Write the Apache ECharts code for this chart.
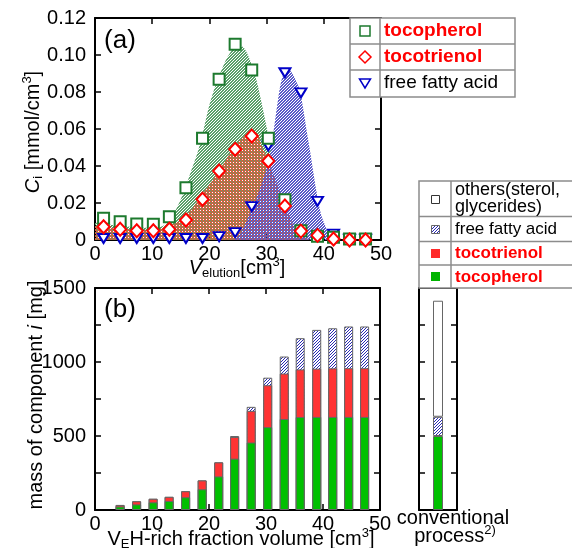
<!DOCTYPE html>
<html>
<head>
<meta charset="utf-8">
<script src="https://cdn.jsdelivr.net/npm/echarts@6/dist/echarts.min.js"></script>
<style>
  html, body { margin: 0; padding: 0; background: #fff; }
  #chart { width: 572px; height: 548px; }
</style>
</head>
<body>
<div id="chart"></div>
<script>
// (a) elution curves, sample points
const vElution = [1.5, 4.4, 7.3, 10.2, 13.0, 15.9, 18.8, 21.7, 24.5, 27.4, 30.3, 33.2, 36.0, 38.9, 41.7, 44.5, 47.3];
const tocopherol = [0.0117, 0.0099, 0.0086, 0.0085, 0.0126, 0.0283, 0.055, 0.0869, 0.1058, 0.0919, 0.055, 0.0218, 0.005, 0.002, 0.0015, 0.0005, 0.0005];
const tocotrienol = [0.0072, 0.0058, 0.005, 0.005, 0.0058, 0.0108, 0.022, 0.0373, 0.049, 0.0562, 0.0427, 0.0184, 0.0048, 0.0025, 0.0005, 0, 0];
const fattyAcid = [0.0008, 0.0008, 0.0008, 0.0008, 0.0008, 0.0008, 0.0008, 0.0018, 0.004, 0.018, 0.0508, 0.0904, 0.0795, 0.0209, 0.0032, 0.0004, 0.0004];

// (a) fitted curves (hatched areas)
const tocopherolFit = [[0, 0.0095], [2, 0.0085], [4, 0.0078], [6, 0.0072], [8, 0.0068], [10, 0.0066], [11, 0.0068], [12, 0.0078], [13, 0.0105], [14, 0.0155], [15, 0.022], [16, 0.030], [17, 0.039], [18, 0.048], [19, 0.060], [20, 0.073], [21, 0.083], [22, 0.091], [23, 0.098], [24, 0.1029], [25, 0.1056], [26, 0.104], [27, 0.098], [28, 0.089], [29, 0.076], [30, 0.061], [31, 0.046], [32, 0.032], [33, 0.021], [34, 0.012], [35, 0.006], [36, 0.003], [37, 0.0012], [38, 0.0005], [40, 0], [50, 0]];
const tocotrienolFit = [[0, 0.0075], [2, 0.0068], [4, 0.0062], [6, 0.0058], [8, 0.0056], [10, 0.0057], [12, 0.0065], [13, 0.0075], [14, 0.009], [15, 0.011], [16, 0.0137], [17, 0.017], [18, 0.0215], [19, 0.026], [20, 0.030], [21, 0.0345], [22, 0.039], [23, 0.044], [24, 0.0488], [25, 0.0528], [26, 0.0558], [27, 0.0578], [27.8, 0.0585], [28.5, 0.057], [29, 0.052], [30, 0.045], [31, 0.037], [32, 0.029], [33, 0.021], [34, 0.013], [35, 0.006], [36, 0.0025], [37, 0.001], [38, 0], [50, 0]];
const fattyAcidFit = [[0, 0], [24, 0], [25, 0.002], [26, 0.007], [27, 0.014], [28, 0.021], [29, 0.029], [30, 0.039], [30.6, 0.046], [31, 0.054], [31.5, 0.065], [32, 0.076], [32.5, 0.085], [33, 0.09], [33.5, 0.0925], [34, 0.092], [34.5, 0.09], [35, 0.087], [35.8, 0.081], [36.5, 0.069], [37, 0.059], [37.6, 0.048], [38.2, 0.036], [38.7, 0.0265], [39.5, 0.014], [40.4, 0.0065], [41, 0.002], [41.6, 0], [50, 0]];

// (b) mass per fraction volume, per component
const fractionVolume = [4.4, 7.3, 10.2, 13.0, 15.9, 18.8, 21.7, 24.5, 27.4, 30.3, 33.2, 36.0, 38.9, 41.7, 44.5, 47.3];
const massTocopherol = [24, 38, 52, 61, 86, 140, 227, 347, 456, 560, 615, 628, 629, 629, 629, 629];
const massTocotrienol = [10, 21, 24, 28, 41, 60, 95, 146, 214, 283, 307, 322, 326, 328, 329, 329];
const massFattyAcid = [0, 0, 0, 0, 0, 0, 0, 7, 27, 51, 115, 211, 262, 271, 282, 282];

// conventional process
const convTocopherol = [500];
const convFattyAcid = [130];
const convOthers = [784];

// running totals for the overlapped bars
const topTocotrienol = massTocopherol.map((v, i) => v + massTocotrienol[i]);
const topFattyAcid = topTocotrienol.map((v, i) => v + massFattyAcid[i]);

const font = '"Liberation Sans", Arial, sans-serif';

function hatch(rgb, dir, period, width, bg) {
  const c = document.createElement('canvas');
  c.width = period;
  c.height = period;
  const ctx = c.getContext('2d');
  if (bg) {
    ctx.fillStyle = bg;
    ctx.fillRect(0, 0, period, period);
  }
  ctx.fillStyle = rgb;
  for (let x = 0; x < period; x++) {
    for (let y = 0; y < period; y++) {
      const k = dir > 0 ? (x + y) % period : (x - y + period) % period;
      if (k < width) ctx.fillRect(x, y, 1, 1);
    }
  }
  return { image: c, repeat: 'repeat' };
}

const greenHatch = hatch('rgb(90,160,105)', 1, 3, 2);
const redHatch = hatch('rgb(215,90,60)', -1, 3, 2);
const blueHatch = hatch('rgb(90,90,200)', 1, 3, 2);
const barHatch = hatch('rgb(40,40,180)', 1, 3, 1, '#ffffff');

const frame = { show: true, onZero: false, lineStyle: { color: '#000', width: 2 } };
const ticks = { show: true, inside: true, length: 6, lineStyle: { color: '#000', width: 1.5 } };
const labelStyle = { color: '#000', fontSize: 20, fontFamily: font };

function xVal(grid, pos, show) {
  return {
    type: 'value', gridIndex: grid, position: pos, min: 0, max: 50, interval: 10,
    axisLine: frame, axisTick: ticks, splitLine: { show: false },
    axisLabel: Object.assign({ show: show, margin: 4, showMinLabel: true, showMaxLabel: true }, labelStyle)
  };
}

function yVal(grid, pos, show, max, interval, fmt) {
  return {
    type: 'value', gridIndex: grid, position: pos, min: 0, max: max, interval: interval,
    axisLine: frame, axisTick: ticks, splitLine: { show: false },
    axisLabel: Object.assign({ show: show, margin: 9, formatter: fmt, showMinLabel: true, showMaxLabel: true }, labelStyle)
  };
}

function xCat(grid, pos) {
  return {
    type: 'category', gridIndex: grid, position: pos, data: ['conventional'],
    axisLine: frame, axisTick: { show: false }, axisLabel: { show: false }, splitLine: { show: false }
  };
}

const subRich = {
  i: { fontStyle: 'italic', fontSize: 20, fontFamily: font, lineHeight: 24 },
  sub: { fontSize: 13, fontFamily: font, verticalAlign: 'bottom', lineHeight: 12 },
  sup: { fontSize: 13, fontFamily: font, verticalAlign: 'top', lineHeight: 12 }
};

function title(x, y, text, rot, size) {
  return {
    type: 'text', x: x, y: y, rotation: rot || 0, z: 100,
    style: {
      text: text, fill: '#000', fontSize: size || 20, fontFamily: font, lineHeight: 24,
      align: 'center', verticalAlign: 'middle', rich: subRich
    }
  };
}

function cellText(x, y, text, size, bold, color) {
  return {
    type: 'text', x: x, y: y, z: 101,
    style: {
      text: text, fill: color || '#000', fontSize: size, fontFamily: font,
      fontWeight: bold ? 'bold' : 'normal', align: 'left', verticalAlign: 'middle'
    }
  };
}

function hline(x1, x2, y) {
  return { type: 'line', z: 101, shape: { x1: x1, y1: y, x2: x2, y2: y }, style: { stroke: '#8c8c8c', lineWidth: 1.5 } };
}
function vline(x, y1, y2) {
  return { type: 'line', z: 101, shape: { x1: x, y1: y1, x2: x, y2: y2 }, style: { stroke: '#8c8c8c', lineWidth: 1.5 } };
}

const legendA = [
  { type: 'rect', z: 100, shape: { x: 350, y: 18, width: 165, height: 79 }, style: { fill: '#fff', stroke: '#8c8c8c', lineWidth: 1.5 } },
  hline(350, 515, 44), hline(350, 515, 70), vline(380, 18, 97),
  { type: 'rect', z: 101, shape: { x: 360, y: 26, width: 10, height: 10 }, style: { fill: '#fff', stroke: '#1d7a2e', lineWidth: 1.5 } },
  { type: 'polygon', z: 101, shape: { points: [[365, 51], [371, 57], [365, 63], [359, 57]] }, style: { fill: '#fff', stroke: '#ff0000', lineWidth: 1.5 } },
  { type: 'polygon', z: 101, shape: { points: [[359.5, 79], [370.5, 79], [365, 88]] }, style: { fill: '#fff', stroke: '#0000c8', lineWidth: 1.5 } },
  cellText(384, 31, 'tocopherol', 19, true, '#ff0000'),
  cellText(384, 57, 'tocotrienol', 19, true, '#ff0000'),
  cellText(384, 83, 'free fatty acid', 19, false)
];

const legendB = [
  { type: 'rect', z: 100, shape: { x: 419, y: 181, width: 170, height: 107 }, style: { fill: '#fff', stroke: '#8c8c8c', lineWidth: 1.5 } },
  hline(419, 572, 216.5), hline(419, 572, 241.5), hline(419, 572, 265), vline(451, 181, 288),
  { type: 'rect', z: 101, shape: { x: 431.5, y: 195.5, width: 8, height: 8 }, style: { fill: '#fff', stroke: '#333', lineWidth: 1 } },
  { type: 'rect', z: 101, shape: { x: 431.5, y: 225.5, width: 8, height: 8 }, style: { fill: barHatch, stroke: '#666', lineWidth: 1 } },
  { type: 'rect', z: 101, shape: { x: 431, y: 249, width: 9, height: 9 }, style: { fill: '#ff2a2a' } },
  { type: 'rect', z: 101, shape: { x: 431, y: 272, width: 9, height: 9 }, style: { fill: '#00b400' } },
  cellText(455, 190, 'others(sterol,', 18, false),
  cellText(455, 207, 'glycerides)', 18, false),
  cellText(455, 229, 'free fatty acid', 17, false),
  cellText(455, 253, 'tocotrienol', 17, true, '#ff0000'),
  cellText(455, 277, 'tocopherol', 17, true, '#ff0000')
];

function area(data, fill) {
  return {
    type: 'line', xAxisIndex: 0, yAxisIndex: 0, data: data, smooth: 0.3, z: 1,
    symbol: 'none', lineStyle: { width: 0, opacity: 0 }, areaStyle: { color: fill, opacity: 1 },
    silent: true
  };
}

function points(values, symbol, size, color, rotate, z) {
  return {
    type: 'scatter', xAxisIndex: 0, yAxisIndex: 0, z: z,
    data: vElution.map((x, i) => [x, values[i]]),
    symbol: symbol, symbolSize: size, symbolRotate: rotate || 0,
    itemStyle: { color: '#fff', borderColor: color, borderWidth: 2, opacity: 1 }
  };
}

// fraction bars: overlapped, tallest drawn first
function fractionBars(tops, fill) {
  return {
    type: 'bar', xAxisIndex: 2, yAxisIndex: 2, barWidth: 9, barGap: '-100%',
    data: fractionVolume.map((x, i) => [x, tops[i]]),
    itemStyle: { color: fill, borderColor: '#666', borderWidth: 1 }
  };
}

function convBar(values, fill) {
  return {
    type: 'bar', xAxisIndex: 4, yAxisIndex: 4, stack: 'conv', barWidth: 10,
    data: values,
    itemStyle: { color: fill, borderColor: '#666', borderWidth: 1 }
  };
}

const chart = echarts.init(document.getElementById('chart'), null, { renderer: 'canvas' });

chart.setOption({
  animation: false,
  backgroundColor: '#fff',
  grid: [
    { left: 95, top: 18, width: 286, height: 222, outerBoundsMode: 'none', containLabel: false },
    { left: 95, top: 288, width: 285, height: 222, outerBoundsMode: 'none', containLabel: false },
    { left: 419, top: 288, width: 38, height: 222, outerBoundsMode: 'none', containLabel: false }
  ],
  xAxis: [
    xVal(0, 'bottom', true), xVal(0, 'top', false),
    xVal(1, 'bottom', true), xVal(1, 'top', false),
    xCat(2, 'bottom'), xCat(2, 'top')
  ],
  yAxis: [
    yVal(0, 'left', true, 0.12, 0.02, v => v === 0 ? '0' : v.toFixed(2)),
    yVal(0, 'right', false, 0.12, 0.02),
    yVal(1, 'left', true, 1500, 250, v => v % 500 === 0 ? String(v) : ''),
    yVal(1, 'right', false, 1500, 250),
    yVal(2, 'left', false, 1500, 250),
    yVal(2, 'right', false, 1500, 250)
  ],
  series: [
    area(tocopherolFit, greenHatch),
    area(tocotrienolFit, redHatch),
    area(fattyAcidFit, blueHatch),
    points(fattyAcid, 'triangle', [11, 9], '#0000c8', 180, 5),
    points(tocopherol, 'rect', 11, '#1d7a2e', 0, 6),
    points(tocotrienol, 'diamond', [12, 13], '#ff0000', 0, 7),
    fractionBars(topFattyAcid, barHatch),
    fractionBars(topTocotrienol, '#ff3333'),
    fractionBars(massTocopherol, '#00c000'),
    convBar(convTocopherol, '#00c000'),
    convBar(convFattyAcid, barHatch),
    convBar(convOthers, '#ffffff')
  ],
  graphic: [
    { type: 'text', x: 120, y: 41, z: 100, style: { text: '(a)', fontSize: 26, fontFamily: font, fill: '#000', align: 'center', verticalAlign: 'middle' } },
    { type: 'text', x: 120, y: 310, z: 100, style: { text: '(b)', fontSize: 26, fontFamily: font, fill: '#000', align: 'center', verticalAlign: 'middle' } },
    title(33, 132, '{i|C}{sub|i} [mmol/cm{sup|3}]', Math.PI / 2),
    title(237, 268, '{i|V}{sub|elution}[cm{sup|3}]'),
    title(36, 395, 'mass of component {i|i} [mg]', Math.PI / 2),
    title(241, 539, 'V{sub|E}H-rich fraction volume [cm{sup|3}]'),
    title(453, 518, 'conventional'),
    title(455, 536, 'process{sup|2)}')
  ].concat(legendA, legendB)
});
</script>
</body>
</html>
